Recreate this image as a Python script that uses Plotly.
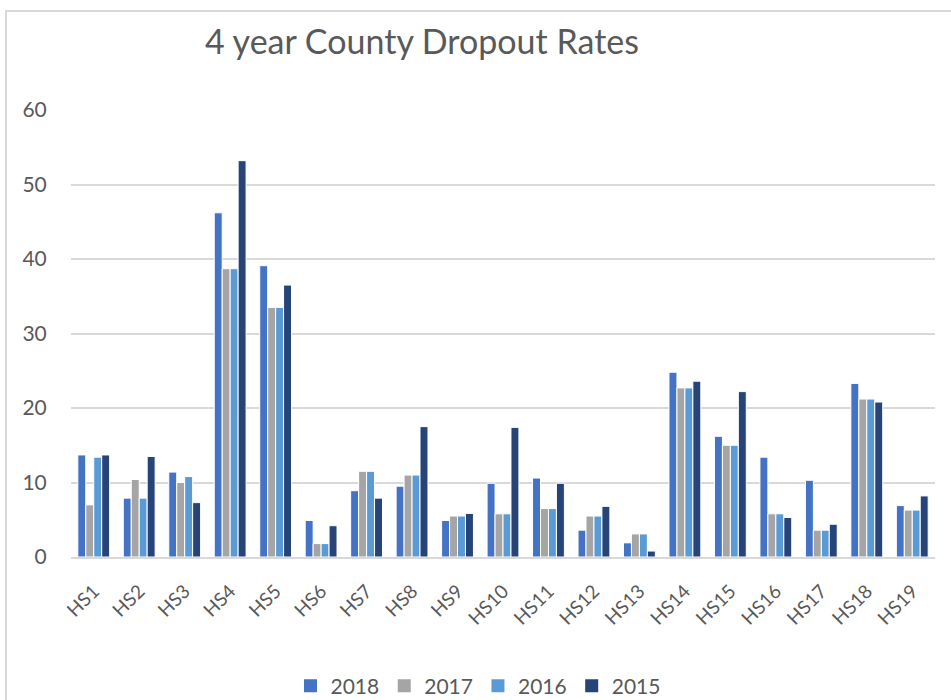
import plotly.graph_objects as go

schools = ["HS1", "HS2", "HS3", "HS4", "HS5", "HS6", "HS7", "HS8", "HS9", "HS10",
           "HS11", "HS12", "HS13", "HS14", "HS15", "HS16", "HS17", "HS18", "HS19"]

rates_2018 = [13.7, 7.9, 11.4, 46.2, 39.1, 4.9, 8.9, 9.5, 4.9, 9.9,
              10.6, 3.6, 1.9, 24.8, 16.2, 13.4, 10.3, 23.3, 6.9]
rates_2017 = [7.0, 10.4, 10.0, 38.7, 33.5, 1.8, 11.5, 11.0, 5.5, 5.8,
              6.5, 5.5, 3.1, 22.7, 15.0, 5.8, 3.6, 21.2, 6.3]
rates_2016 = [13.4, 7.9, 10.8, 38.7, 33.5, 1.8, 11.5, 11.0, 5.5, 5.8,
              6.5, 5.5, 3.1, 22.7, 15.0, 5.8, 3.6, 21.2, 6.3]
rates_2015 = [13.7, 13.5, 7.3, 53.2, 36.5, 4.2, 7.9, 17.5, 5.85, 17.4,
              9.9, 6.8, 0.8, 23.6, 22.2, 5.3, 4.4, 20.8, 8.2]

series = [
    ("2018", rates_2018, "#4472C4"),
    ("2017", rates_2017, "#A5A5A5"),
    ("2016", rates_2016, "#5B9BD5"),
    ("2015", rates_2015, "#264478"),
]

FONT = "Lato, 'Open Sans', sans-serif"
TEXT = "#595959"
GRID = "#D9D9D9"

fig = go.Figure()
for name, vals, color in series:
    fig.add_trace(go.Bar(
        x=schools, y=vals, name=name, showlegend=False, legendgroup=name,
        marker=dict(color=color, line=dict(color="white", width=1)),
    ))
# legend-only entries with larger square swatches
for name, vals, color in series:
    fig.add_trace(go.Scatter(
        x=[None], y=[None], mode="markers", name=name, legendgroup=name,
        marker=dict(symbol="square", size=13, color=color),
    ))

L, R, T, B = 71, 16, 110, 143
W, H = 951, 700
pw, ph = W - L - R, H - T - B

def px_to_paper_x(px):
    return (px - L) / pw

def px_to_paper_y(py):
    return (H - B - py) / ph

fig.update_layout(
    width=W, height=H,
    margin=dict(l=L, r=R, t=T, b=B, pad=0, autoexpand=False),
    paper_bgcolor="white", plot_bgcolor="white",
    barmode="group", bargap=0.3, bargroupgap=0.0,
    font=dict(family=FONT, color=TEXT, size=18),
    title=dict(text="4 year County Dropout Rates", x=422 / W, xanchor="center",
               y=1 - 42 / H, yanchor="middle",
               font=dict(family=FONT, size=34, color=TEXT)),
    legend=dict(orientation="h", x=px_to_paper_x(478), xanchor="center",
                y=px_to_paper_y(686), yanchor="middle",
                font=dict(size=21, color=TEXT), itemwidth=30,
                traceorder="normal"),
    showlegend=True,
)

fig.update_yaxes(range=[0, 60], dtick=10, showgrid=True, gridcolor=GRID, gridwidth=1.5,
                 zeroline=False, showline=False, ticks="outside", ticklen=19,
                 tickcolor="rgba(0,0,0,0)", tickfont=dict(size=21, color=TEXT),
                 automargin=False)
fig.update_xaxes(showline=True, linecolor=GRID, linewidth=1.5, showgrid=False,
                 tickangle=-45, ticks="outside", ticklen=14, tickcolor="rgba(0,0,0,0)",
                 tickfont=dict(size=19, color=TEXT), automargin=False)

# light gray outer frame (cropped by the screenshot on the right and bottom)
fig.add_shape(type="rect", xref="paper", yref="paper",
              x0=px_to_paper_x(6), x1=px_to_paper_x(990),
              y0=px_to_paper_y(740), y1=px_to_paper_y(11),
              line=dict(color=GRID, width=2), fillcolor="rgba(0,0,0,0)", layer="below")

fig.write_html("out.html")
